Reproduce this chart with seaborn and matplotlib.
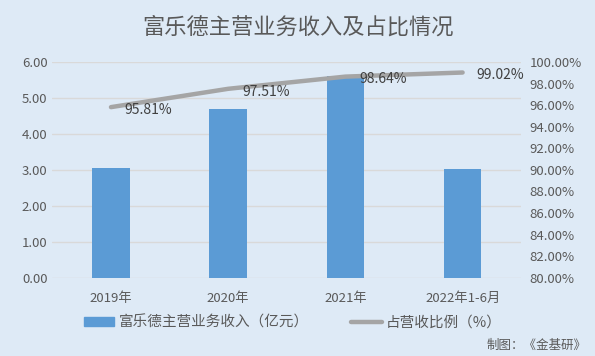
import seaborn as sns
import pandas as pd
import numpy as np
import matplotlib.pyplot as plt
from matplotlib.patches import Patch
from matplotlib.lines import Line2D
from matplotlib.ticker import FuncFormatter

years = ['2019年', '2020年', '2021年', '2022年1-6月']
revenue = [3.06, 4.69, 5.61, 3.03]
share = [95.81, 97.51, 98.64, 99.02]

bg = '#DEEAF6'
sns.set_style('white')
plt.rcParams['font.family'] = ['Noto Sans CJK SC', 'DejaVu Sans']

fig, ax = plt.subplots(figsize=(5.95, 3.56), dpi=100)
fig.patch.set_facecolor(bg)
ax.set_facecolor(bg)
fig.subplots_adjust(left=0.088, right=0.876, top=0.826, bottom=0.22)

df = pd.DataFrame({'year': years, 'revenue': revenue, 'share': share})
sns.barplot(data=df, x='year', y='revenue', color='#5B9BD5', width=0.32,
            saturation=1, linewidth=0, edgecolor='none', ax=ax, zorder=2)
ax.set_ylim(0, 6)
ax.set_yticks(np.arange(0, 6.01, 1))
ax.yaxis.set_major_formatter(FuncFormatter(lambda v, p: f'{v:.2f}'))
ax.grid(axis='y', color='#D9D9D9', linewidth=1, zorder=0)
ax.set_axisbelow(True)
ax.set_xlabel('')
ax.set_ylabel('')
ax.set_xlim(-0.5, len(years) - 0.5)

ax2 = ax.twinx()
pos = np.arange(len(years))
sns.lineplot(x=pos, y=share, color='#A5A5A5', linewidth=3.2, ax=ax2, zorder=3)
ax2.set_ylim(80, 100)
ax2.set_yticks(np.arange(80, 100.1, 2))
ax2.yaxis.set_major_formatter(FuncFormatter(lambda v, p: f'{v:.2f}%'))
for x, v in zip(pos, share):
    ax2.annotate(f'{v:.2f}%', (x, v), xytext=(10, -2), textcoords='offset points',
                 ha='left', va='center', fontsize=10, color='#404040')

for a in (ax, ax2):
    for s in a.spines.values():
        s.set_visible(False)
    a.tick_params(length=0, labelsize=9.5, labelcolor='#595959')
ax.tick_params(axis='x', pad=10)
ax2.tick_params(axis='y', pad=6)

fig.suptitle('富乐德主营业务收入及占比情况', x=0.5, y=0.955, fontsize=16, color='#595959')

handles = [Patch(color='#5B9BD5'), Line2D([0], [0], color='#A5A5A5', linewidth=3.2)]
fig.legend(handles, ['富乐德主营业务收入（亿元）', '占营收比例（%）'], loc='center',
           bbox_to_anchor=(0.492, 0.093), ncol=2, frameon=False, fontsize=10.5,
           labelcolor='#595959', columnspacing=2.9, handlelength=2.1, handletextpad=0.3,
           handleheight=0.6)
fig.text(0.985, 0.03, '制图：《金基研》', ha='right', va='center', fontsize=9, color='#595959')

plt.savefig('out.png', dpi=100, facecolor=bg)
